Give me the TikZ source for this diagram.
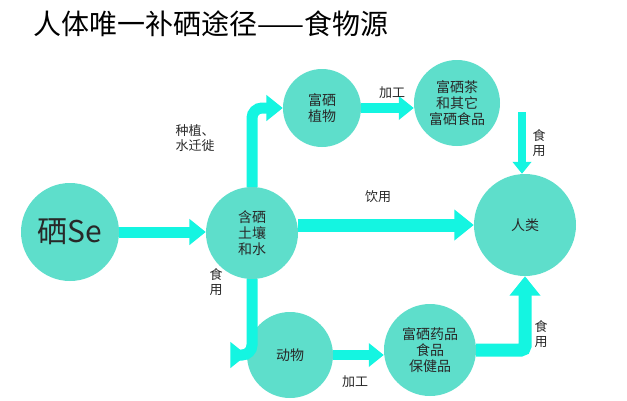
\documentclass[tikz,border=0pt]{standalone}
\usepackage{fontspec}
\setmainfont{Noto Sans CJK SC}
\usetikzlibrary{arrows.meta}
\definecolor{circ}{RGB}{94,222,203}
\definecolor{arr}{RGB}{20,245,225}
\definecolor{txt}{RGB}{40,40,40}
\begin{document}
\begin{tikzpicture}[x=1pt,y=-1pt,
  c/.style={circle,fill=circ,text=txt,align=center,font=\fontsize{14}{16}\selectfont,inner sep=0pt},
  ba/.style={draw=arr,line width=#1,-{Triangle[width=2.3*#1,length=1.5*#1]}},
  ba/.default=11pt,
  lb/.style={text=txt,font=\fontsize{13}{15}\selectfont,align=center}]
\useasboundingbox (0,0) rectangle (627,400);
\node[anchor=west,font=\fontsize{28}{30}\selectfont] (t) at (30,24) {人体唯一补硒途径——食物源};
\node[c,minimum size=98pt,font=\fontsize{30}{32}\selectfont] (se) at (70,232) {硒Se};
\node[c,minimum size=92pt] (soil) at (252,233) {含硒\\土壤\\和水};
\node[c,minimum size=78pt] (pl) at (322,108) {富硒\\植物};
\node[c,minimum size=86pt] (tea) at (457,103) {富硒茶\\和其它\\富硒食品};
\node[c,minimum size=102pt] (hu) at (525,225) {人类};
\node[c,minimum size=86pt] (an) at (290,355) {动物};
\node[c,minimum size=92pt] (med) at (430,350) {富硒药品\\食品\\保健品};
\coordinate (h1) at (522,112);
\draw[ba] (se.east) -- (soil.west |- se.east);
\draw[ba=13pt] (soil.east |- hu.west) -- (hu.west);
\draw[ba,rounded corners=10pt] (soil.north) |- (pl.west);
\draw[ba,rounded corners=10pt] (soil.south) |- (an.west);
\draw[ba=10pt] (pl.east) -- (tea.west |- pl.east);
\draw[ba=8pt] (h1) -- (h1 |- hu.north);
\draw[ba=13pt,rounded corners=4pt] (med.east) -| (hu.south);
\draw[ba=10pt] (an.east) -- (med.west |- an.east);
\node[lb] (l1) at (195,138) {种植、\\水迁徙};
\node[lb] (l2) at (392,93) {加工};
\node[lb] (l3) at (539,143) {食\\用};
\node[lb] (l4) at (378,197) {饮用};
\node[lb] (l5) at (216,282) {食\\用};
\node[lb] (l6) at (355,382) {加工};
\node[lb] (l7) at (541,334) {食\\用};
\end{tikzpicture}
\end{document}
